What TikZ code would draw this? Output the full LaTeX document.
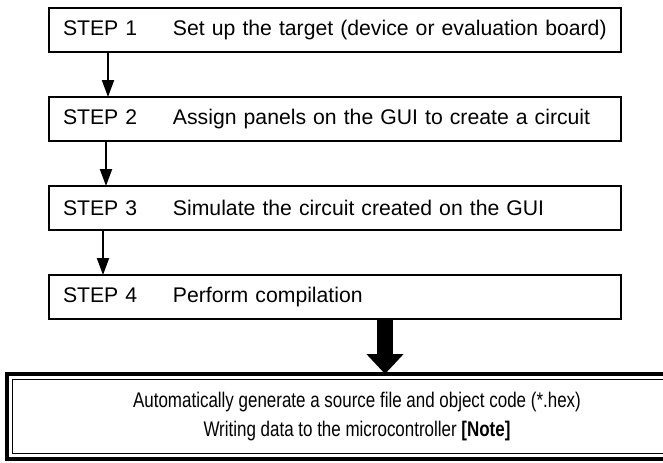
\documentclass[tikz,border=0pt]{standalone}
\usepackage{fontspec}
\setmainfont{Liberation Sans}
\newfontfamily\narrowsans[FakeStretch=0.8]{Liberation Sans}
\usepackage{tikz}
\usetikzlibrary{arrows.meta,positioning,calc}
\newcommand{\stepno}[1]{\makebox[55pt][l]{STEP #1}}
\tikzset{
  stepbox/.style={draw,line width=1.3pt,outer sep=0pt,minimum width=286pt,minimum height=22pt,
    inner xsep=7pt,text width=272pt,align=left,font=\fontsize{10.6}{12}\selectfont},
  outbox/.style={draw,line width=2pt,outer sep=0pt,minimum width=350pt,minimum height=42.5pt,
    align=center,font=\narrowsans\fontsize{10.6}{14.5}\selectfont},
  innerline/.style={line width=0.8pt},
  flow/.style={-{Triangle[length=8.5pt,width=6pt]},line width=1pt},
  bigflow/.style={-{Triangle[length=10pt,width=18pt]},line width=8pt},
}
\begin{document}
\begin{tikzpicture}[x=0.5pt,y=0.5pt,node distance=22.5pt]
  \useasboundingbox (0,0) rectangle (663,462);
  \node[stepbox] (s1) at (335,432) {\stepno{1}Set up the target (device or evaluation board)};
  \node[stepbox,below=of s1] (s2) {\stepno{2}Assign panels on the GUI to create a circuit};
  \node[stepbox,below=of s2] (s3) {\stepno{3}Simulate the circuit created on the GUI};
  \node[stepbox,below=of s3] (s4) {\stepno{4}Perform compilation};
  \foreach \a/\b/\d in {s1/s2/29.5pt,s2/s3/28.5pt,s3/s4/27pt}
    \draw[flow] ([xshift=\d]\a.south west) -- ([xshift=\d]\b.north west);
  % result box, double frame
  \node[outbox,below=27.5pt of s4,xshift=11pt] (out)
    {Automatically generate a source file and object code (*.hex)\\
     Writing data to the microcontroller \textbf{[Note]}};
  \draw[innerline] ($(out.north west)+(2.7pt,-2.7pt)$) rectangle ($(out.south east)+(-2.7pt,2.7pt)$);
  \draw[bigflow] ([xshift=25pt]s4.south) -- ([xshift=25pt]s4.south |- out.north);
\end{tikzpicture}
\end{document}
